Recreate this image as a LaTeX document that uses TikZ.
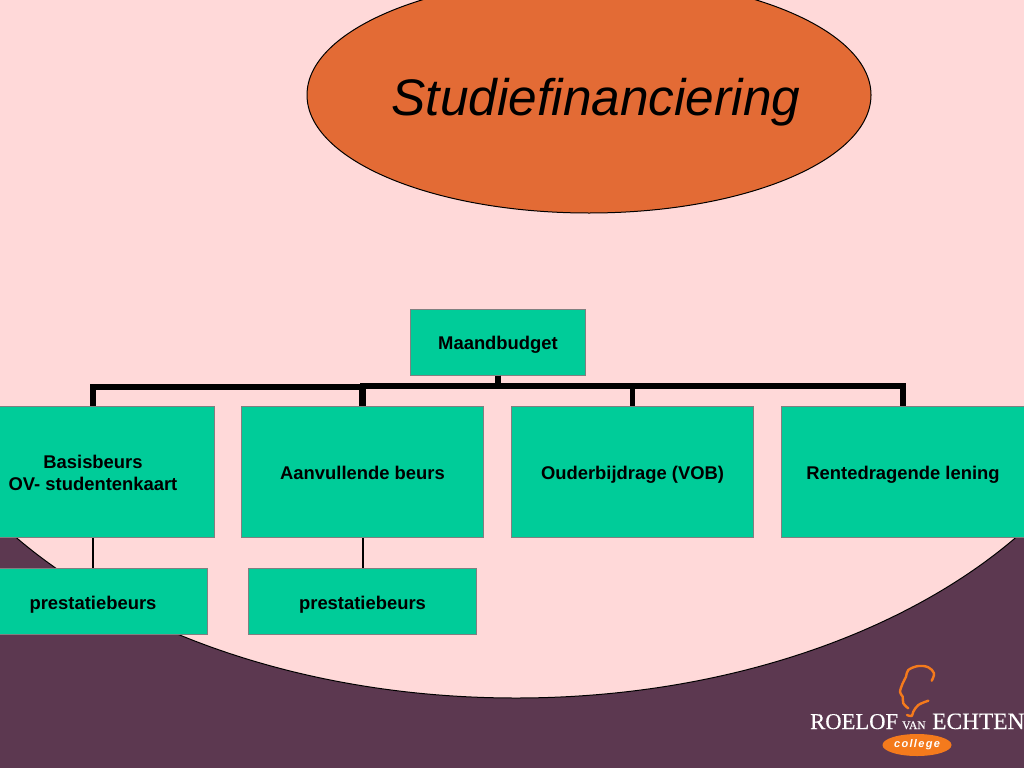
\documentclass[tikz,border=0pt]{standalone}
\usepackage{fontspec}
\setmainfont{Liberation Sans}
\newfontfamily\logofont[FakeBold=0.25]{Liberation Serif}
\usetikzlibrary{shapes,positioning}
\definecolor{slidepink}{HTML}{FFD9D9}
\definecolor{slideplum}{HTML}{5C3850}
\definecolor{titleorange}{HTML}{E36B35}
\definecolor{boxgreen}{HTML}{00CC99}
\definecolor{logoorange}{HTML}{F47A1C}
\tikzset{
    budgetbox/.style={draw=black!50, line width=1pt, fill=boxgreen, align=center, font=\fontsize{18.4}{22}\selectfont\bfseries, inner sep=0pt},
    oneline/.style={text height=19pt, text depth=4pt},
    bigbar/.style={line width=5.6pt, black},
    leftbar/.style={line width=6.4pt, black},
    smallbar/.style={line width=2pt, black},
    logotext/.style={white, anchor=base west, inner sep=0pt, font=\logofont\fontsize{#1}{#1}\selectfont},
    logoline/.style={logoorange, line width=2.4pt, line cap=round, line join=round}
}
\begin{document}
\begin{tikzpicture}[x=1pt, y=-1pt]
        \useasboundingbox (0,0) rectangle (1024,768);
        \clip (0,0) rectangle (1024,768);
        % backdrop
        \fill[slidepink] (0,0) rectangle (1024,768);
        \fill[slideplum] (0,450) rectangle (1024,768);
        \begin{scope}
            \clip (0,450) rectangle (1024,768);
            \filldraw[fill=slidepink, draw=black, line width=1pt] (516,298) ellipse [x radius=624, y radius=400];
        \end{scope}
        % title
        \node[draw=black, line width=1pt, fill=titleorange, ellipse, minimum width=564pt, minimum height=236pt, inner sep=0pt] (titleshape) at (589,95) {};
        \node[font=\fontsize{51.4}{51.4}\selectfont\itshape] (titletext) at (596,102) {Studiefinanciering};
        % boxes
        \node[budgetbox, oneline, minimum width=175pt, minimum height=66pt] (maand) at (498,342) {Maandbudget};
        \node[budgetbox, text height=41pt, text depth=4pt, minimum width=242pt, minimum height=131pt] (basis) at (93,472) {Basisbeurs\\OV- studentenkaart};
        \node[budgetbox, oneline, minimum width=242pt, minimum height=131pt] (aanv) at (362.5,472) {Aanvullende beurs};
        \node[budgetbox, oneline, minimum width=242pt, minimum height=131pt] (ouder) at (632.5,472) {Ouderbijdrage (VOB)};
        \node[budgetbox, oneline, minimum width=244pt, minimum height=131pt] (rente) at (903,472) {Rentedragende lening};
        \node[budgetbox, oneline, minimum width=228pt, minimum height=66pt] (prest1) at (93,601.5) {prestatiebeurs};
        \node[budgetbox, oneline, minimum width=228pt, minimum height=66pt] (prest2) at (362.5,601.5) {prestatiebeurs};
        % connectors
        \draw[bigbar] (maand.south) -- ++(0,10.5) -| (aanv.north);
        \draw[bigbar] (maand.south) -- ++(0,10.5) -| (ouder.north);
        \draw[bigbar] (maand.south) -- ++(0,10.5) -| (rente.north);
        \draw[leftbar] (aanv.north) -- ++(0,-19) -| (basis.north);
        \draw[smallbar] (basis.south) -- (prest1.north);
        \draw[smallbar] (aanv.south) -- (prest2.north);
        % logo
        \draw[logoline] plot[smooth, tension=0.6] coordinates {(931.7,680.7) (934,673.3) (928.3,667.3) (918.3,666) (908.3,670) (906,676.7) (902.7,683.3) (900,692) (902.7,696.7) (903.3,703.3) (908.3,708.3)};
        \draw[logoline] plot[smooth, tension=0.6] coordinates {(928.3,700.7) (918.3,705) (913.3,711.7) (911.7,716) (907,715)};
        \node[logotext=22.6] (logoroelof) at (810,729) {ROELOF};
        \node[logotext=11.5] (logovan) at (902,729) {VAN};
        \node[logotext=23.4] (logoechten) at (932,729) {ECHTEN};
        \node[fill=logoorange, ellipse, minimum width=69pt, minimum height=22pt, inner sep=0pt, text=white, font=\fontsize{11}{11}\selectfont\bfseries\itshape\addfontfeature{LetterSpace=12}] (logocollege) at (917,745) {college};
    \end{tikzpicture}
\end{document}
